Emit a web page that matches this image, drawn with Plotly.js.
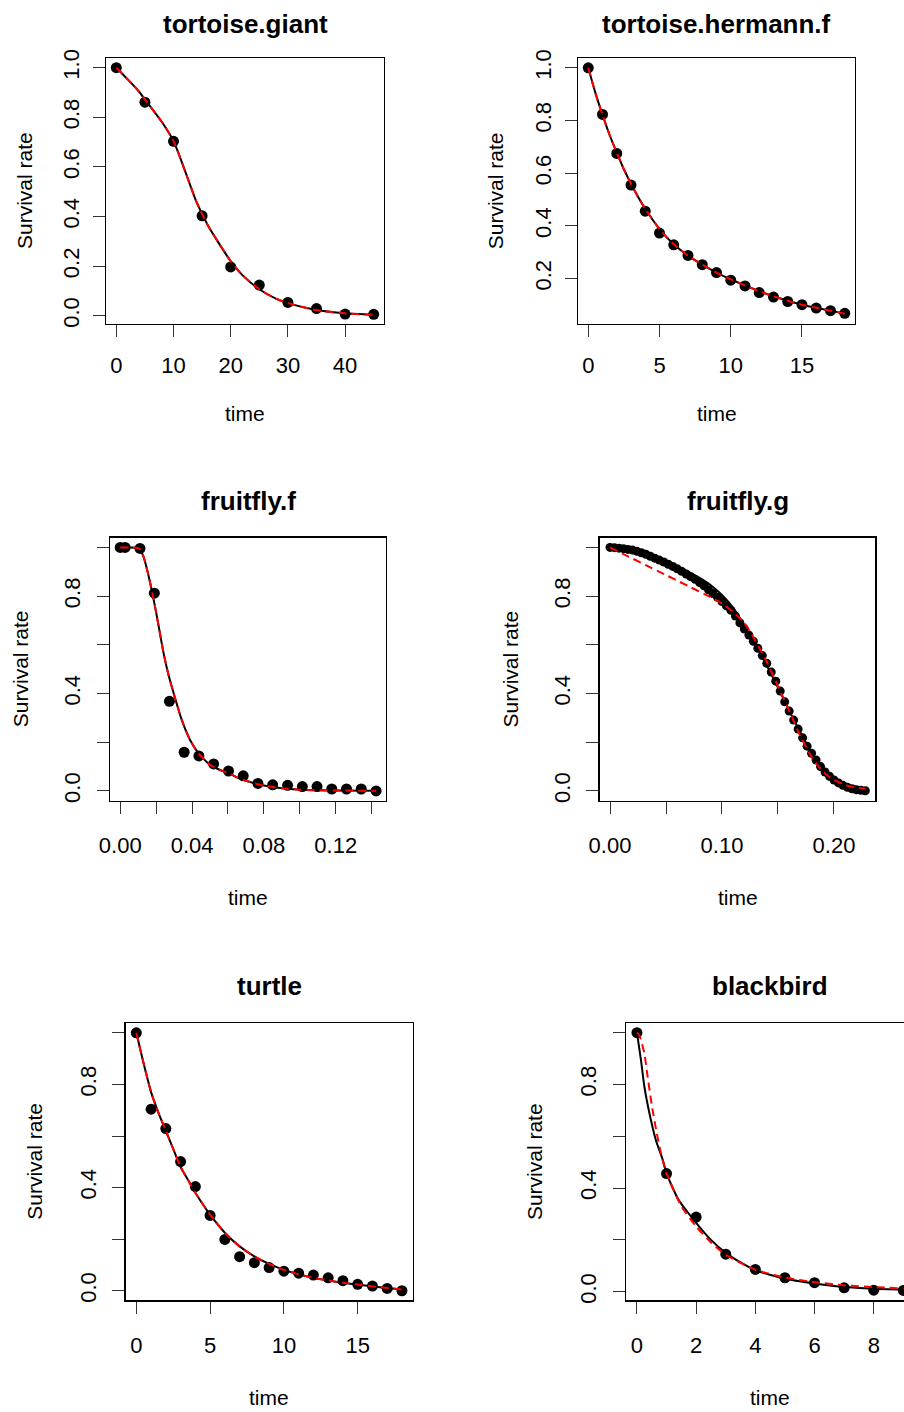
<!DOCTYPE html>
<html>
<head>
<meta charset="utf-8">
<script src="https://cdn.plot.ly/plotly-3.0.1.min.js"></script>
<style>
html, body { margin:0; padding:0; overflow:hidden; background:#fff; }
#chart { width:920px; height:1412px; }
</style>
</head>
<body>
<div id="chart"></div>
<script>
// ---------- DATA ----------
// tortoise.giant
const giantX = [0,5,10,15,20,25,30,35,40,45];
const giantY = [1.0,0.861,0.703,0.403,0.197,0.124,0.054,0.029,0.007,0.006];
const giantFitX = [0,2,4,5,6,8,10,12,14,16,18,20,22,25,28,30,35,40,45];
const giantFitY = [1.0,0.953,0.903,0.872,0.842,0.78,0.705,0.585,0.46,0.365,0.29,0.22,0.165,0.107,0.068,0.051,0.023,0.01,0.004];

// tortoise.hermann.f
const hermX = [0,1,2,3,4,5,6,7,8,9,10,11,12,13,14,15,16,17,18];
const hermY = [1.0,0.823,0.675,0.555,0.456,0.373,0.328,0.288,0.253,0.223,0.194,0.172,0.147,0.130,0.113,0.101,0.088,0.078,0.068];
const hermFitX = [0,0.5,1,1.5,2,2.5,3,3.5,4,5,6,7,8,9,10,11,12,13,14,15,16,17,18];
const hermFitY = [1.0,0.905,0.822,0.745,0.678,0.615,0.560,0.51,0.465,0.388,0.330,0.287,0.253,0.223,0.197,0.174,0.152,0.133,0.116,0.101,0.089,0.078,0.067];

// fruitfly.f
const ffX = [0,0.0027,0.011,0.019,0.0274,0.0356,0.0438,0.052,0.0603,0.0685,0.0767,0.0849,0.0932,0.1014,0.1096,0.1178,0.126,0.1342,0.1425];
const ffY = [1.0,1.0,0.996,0.812,0.368,0.159,0.144,0.111,0.082,0.062,0.031,0.025,0.023,0.018,0.018,0.008,0.008,0.008,0.0];
const ffFitX = [0,0.005,0.009,0.0107,0.013,0.0157,0.0185,0.0213,0.024,0.0269,0.0306,0.0343,0.0389,0.0435,0.05,0.055,0.06,0.065,0.07,0.075,0.08,0.09,0.1,0.12,0.1425];
const ffFitY = [1.0,1.0,0.999,0.995,0.961,0.886,0.79,0.681,0.571,0.476,0.38,0.291,0.209,0.155,0.107,0.088,0.074,0.056,0.042,0.031,0.022,0.011,0.005,0.002,0.001];

// fruitfly.g
const fgX = [0,0.004,0.008,0.012,0.016,0.020,0.024,0.028,0.032,0.036,0.040,0.044,0.048,0.052,0.056,0.060,0.064,0.068,0.072,0.076,0.080,0.084,0.088,0.092,0.096,0.100,0.104,0.108,0.112,0.116,0.120,0.124,0.128,0.132,0.136,0.140,0.144,0.148,0.152,0.156,0.160,0.164,0.168,0.172,0.176,0.180,0.184,0.188,0.192,0.196,0.200,0.204,0.208,0.212,0.216,0.220,0.224,0.228];
const fgY = [1.000,0.999,0.997,0.995,0.992,0.989,0.984,0.978,0.972,0.964,0.956,0.948,0.940,0.931,0.922,0.912,0.902,0.891,0.880,0.869,0.856,0.842,0.826,0.811,0.795,0.778,0.760,0.742,0.718,0.690,0.665,0.640,0.615,0.586,0.556,0.524,0.488,0.451,0.410,0.366,0.328,0.291,0.254,0.218,0.184,0.155,0.127,0.100,0.078,0.060,0.045,0.033,0.023,0.015,0.009,0.005,0.003,0.001];
const fgFitX = [0,0.02,0.04,0.06,0.07,0.08,0.09,0.1,0.11,0.12,0.13,0.14,0.15,0.16,0.17,0.18,0.19,0.2,0.21,0.22,0.228];
const fgFitY = [1.0,0.993,0.962,0.922,0.9,0.875,0.845,0.805,0.752,0.68,0.6,0.515,0.425,0.33,0.24,0.158,0.092,0.046,0.019,0.006,0.002];
const fgFit2X = [0,0.09,0.1,0.11,0.12,0.13,0.14,0.15,0.16,0.17,0.18,0.19,0.2,0.21,0.22,0.228];
const fgFit2Y = [1.0,0.795,0.77,0.735,0.69,0.615,0.53,0.43,0.33,0.225,0.14,0.08,0.045,0.025,0.014,0.01];

// turtle
const turtX = [0,1,2,3,4,5,6,7,8,9,10,11,12,13,14,15,16,17,18];
const turtY = [1.0,0.704,0.629,0.501,0.404,0.292,0.199,0.132,0.109,0.090,0.076,0.068,0.061,0.050,0.039,0.025,0.018,0.009,0.0];
const turtFitX = [0,0.5,1,1.5,2,2.5,3,3.5,4,5,6,7,8,9,10,11,12,13,14,15,16,17,18];
const turtFitY = [1.0,0.88,0.77,0.69,0.62,0.55,0.48,0.43,0.38,0.295,0.225,0.172,0.133,0.104,0.081,0.064,0.050,0.040,0.031,0.024,0.017,0.011,0.005];

// blackbird
const bbX = [0,1,2,3,4,5,6,7,8,9];
const bbY = [1.0,0.456,0.288,0.145,0.086,0.054,0.035,0.015,0.006,0.005];
const bbFitX = [0,0.135,0.25,0.42,0.64,0.87,1.0,1.4,2.0,2.5,3.0,3.5,4.0,5.0,6.0,7.0,8.0,9.0];
const bbFitY = [1.0,0.895,0.792,0.69,0.585,0.51,0.457,0.356,0.266,0.2,0.15,0.113,0.083,0.05,0.032,0.018,0.012,0.009];
const bbFit2X = [0,0.08,0.25,0.36,0.51,0.67,0.84,1.0,1.5,2.0,2.5,3.0,4.0,5.0,6.0,7.0,8.0,9.0];
const bbFit2Y = [1.0,0.99,0.92,0.83,0.714,0.611,0.52,0.457,0.33,0.252,0.19,0.143,0.085,0.055,0.037,0.025,0.018,0.013];

const titles = ['tortoise.giant','tortoise.hermann.f','fruitfly.f','fruitfly.g','turtle','blackbird'];
const xLabel = 'time';
const yLabel = 'Survival rate';

// tick values / labels
const xTicks = [
  {v:[0,10,20,30,40], t:['0','10','20','30','40']},
  {v:[0,5,10,15], t:['0','5','10','15']},
  {v:[0,0.02,0.04,0.06,0.08,0.10,0.12,0.14], t:['0.00','','0.04','','0.08','','0.12','']},
  {v:[0,0.05,0.10,0.15,0.20], t:['0.00','','0.10','','0.20']},
  {v:[0,5,10,15], t:['0','5','10','15']},
  {v:[0,2,4,6,8], t:['0','2','4','6','8']}
];
const yTicks = [
  {v:[0,0.2,0.4,0.6,0.8,1.0], t:['0.0','0.2','0.4','0.6','0.8','1.0']},
  {v:[0.2,0.4,0.6,0.8,1.0], t:['0.2','0.4','0.6','0.8','1.0']},
  {v:[0,0.2,0.4,0.6,0.8,1.0], t:['0.0','','0.4','','0.8','']},
  {v:[0,0.2,0.4,0.6,0.8,1.0], t:['0.0','','0.4','','0.8','']},
  {v:[0,0.2,0.4,0.6,0.8,1.0], t:['0.0','','0.4','','0.8','']},
  {v:[0,0.2,0.4,0.6,0.8,1.0], t:['0.0','','0.4','','0.8','']}
];

// ---------- LAYOUT ----------
const W = 920, H = 1412;
const FONT = 'Liberation Sans, Arial, Helvetica, sans-serif';
// plot boxes in pixels [x0, x1, y0(top), y1(bottom)]
const boxes = [
  [106, 384, 58, 324],
  [578, 855, 58, 324],
  [110, 386, 537.7, 800.7],
  [599.7, 875.3, 537.7, 800.7],
  [125.7, 412.7, 1023.3, 1300.3],
  [626, 914, 1023.3, 1300.3]
];
const xRanges = [[-1.8,46.8],[-0.72,18.72],[-0.0057,0.148],[-0.0092,0.2369],[-0.72,18.73],[-0.37,9.36]];
const yRanges = [[-0.033,1.039],[0.0276,1.0374],[-0.04,1.04],[-0.04,1.04],[-0.037,1.037],[-0.033,1.036]];
const titleY = [24, 24, 501, 501, 986, 986];
const xlabY = [413.7, 413.7, 898, 898, 1397.5, 1397.5];
const ylabX = [24, 495.3, 20, 510.3, 35, 535.3];
const xStand = [9, 9, 13, 13, 13, 13];
const yStand = [5, 5, 8, 8, 8, 8];

const px = v => v / W;
const py = v => 1 - v / H;

const layout = {
  width: W, height: H,
  margin: {l:0, r:0, t:0, b:0},
  paper_bgcolor: '#fff', plot_bgcolor: '#fff',
  showlegend: false,
  font: {family: FONT, size: 21, color: '#000'},
  annotations: []
};

boxes.forEach((b, i) => {
  const n = i === 0 ? '' : String(i + 1);
  layout['xaxis' + n] = {
    domain: [px(b[0]), px(b[1])], anchor: 'y' + n, range: xRanges[i],
    showgrid: false, zeroline: false, showline: true, mirror: true,
    linecolor: '#000', linewidth: 1.3,
    ticks: 'outside', ticklen: 12, tickwidth: 1, tickcolor: '#333',
    tickmode: 'array', tickvals: xTicks[i].v, ticktext: xTicks[i].t,
    ticklabelstandoff: xStand[i],
    tickfont: {family: FONT, size: 22, color: '#000'},
    fixedrange: true
  };
  layout['yaxis' + n] = {
    domain: [py(b[3]), py(b[2])], anchor: 'x' + n, range: yRanges[i],
    showgrid: false, zeroline: false, showline: true, mirror: true,
    linecolor: '#000', linewidth: 1.3,
    ticks: 'outside', ticklen: 12, tickwidth: 1, tickcolor: '#333',
    tickmode: 'array', tickvals: yTicks[i].v, ticktext: yTicks[i].t,
    tickangle: -90, ticklabelstandoff: yStand[i],
    tickfont: {family: FONT, size: 22, color: '#000'},
    fixedrange: true
  };
  const cx = (b[0] + b[1]) / 2, cy = (b[2] + b[3]) / 2;
  layout.annotations.push({
    text: '<b>' + titles[i] + '</b>', xref: 'paper', yref: 'paper',
    x: px(cx), y: py(titleY[i]), xanchor: 'center', yanchor: 'middle',
    showarrow: false, font: {family: FONT, size: 26, color: '#000'}
  });
  layout.annotations.push({
    text: xLabel, xref: 'paper', yref: 'paper',
    x: px(cx), y: py(xlabY[i]), xanchor: 'center', yanchor: 'middle',
    showarrow: false, font: {family: FONT, size: 21, color: '#000'}
  });
  layout.annotations.push({
    text: yLabel, xref: 'paper', yref: 'paper', textangle: -90,
    x: px(ylabX[i]), y: py(cy), xanchor: 'center', yanchor: 'middle',
    showarrow: false, font: {family: FONT, size: 21, color: '#000'}
  });
});

// ---------- TRACES ----------
const traces = [];
function addPanel(i, x, y, fx, fy, f2x, f2y, msize) {
  const n = i === 0 ? '' : String(i + 1);
  traces.push({x: x, y: y, xaxis: 'x' + n, yaxis: 'y' + n, type: 'scatter', mode: 'markers',
    marker: {color: '#000', size: msize, line: {width: 0}}, hoverinfo: 'skip'});
  traces.push({x: fx, y: fy, xaxis: 'x' + n, yaxis: 'y' + n, type: 'scatter', mode: 'lines',
    line: {color: '#000', width: 2, shape: 'spline', smoothing: 0.6}, hoverinfo: 'skip'});
  traces.push({x: f2x, y: f2y, xaxis: 'x' + n, yaxis: 'y' + n, type: 'scatter', mode: 'lines',
    line: {color: '#ff0000', width: 2, dash: '8px,5px', shape: 'spline', smoothing: 0.6}, hoverinfo: 'skip'});
}
addPanel(0, giantX, giantY, giantFitX, giantFitY, giantFitX, giantFitY, 11);
addPanel(1, hermX, hermY, hermFitX, hermFitY, hermFitX, hermFitY, 11);
addPanel(2, ffX, ffY, ffFitX, ffFitY, ffFitX, ffFitY, 11);
addPanel(3, fgX, fgY, fgFitX, fgFitY, fgFit2X, fgFit2Y, 9);
addPanel(4, turtX, turtY, turtFitX, turtFitY, turtFitX, turtFitY, 11);
addPanel(5, bbX, bbY, bbFitX, bbFitY, bbFit2X, bbFit2Y, 11);

Plotly.newPlot('chart', traces, layout, {staticPlot: true, displayModeBar: false});
</script>
</body>
</html>
